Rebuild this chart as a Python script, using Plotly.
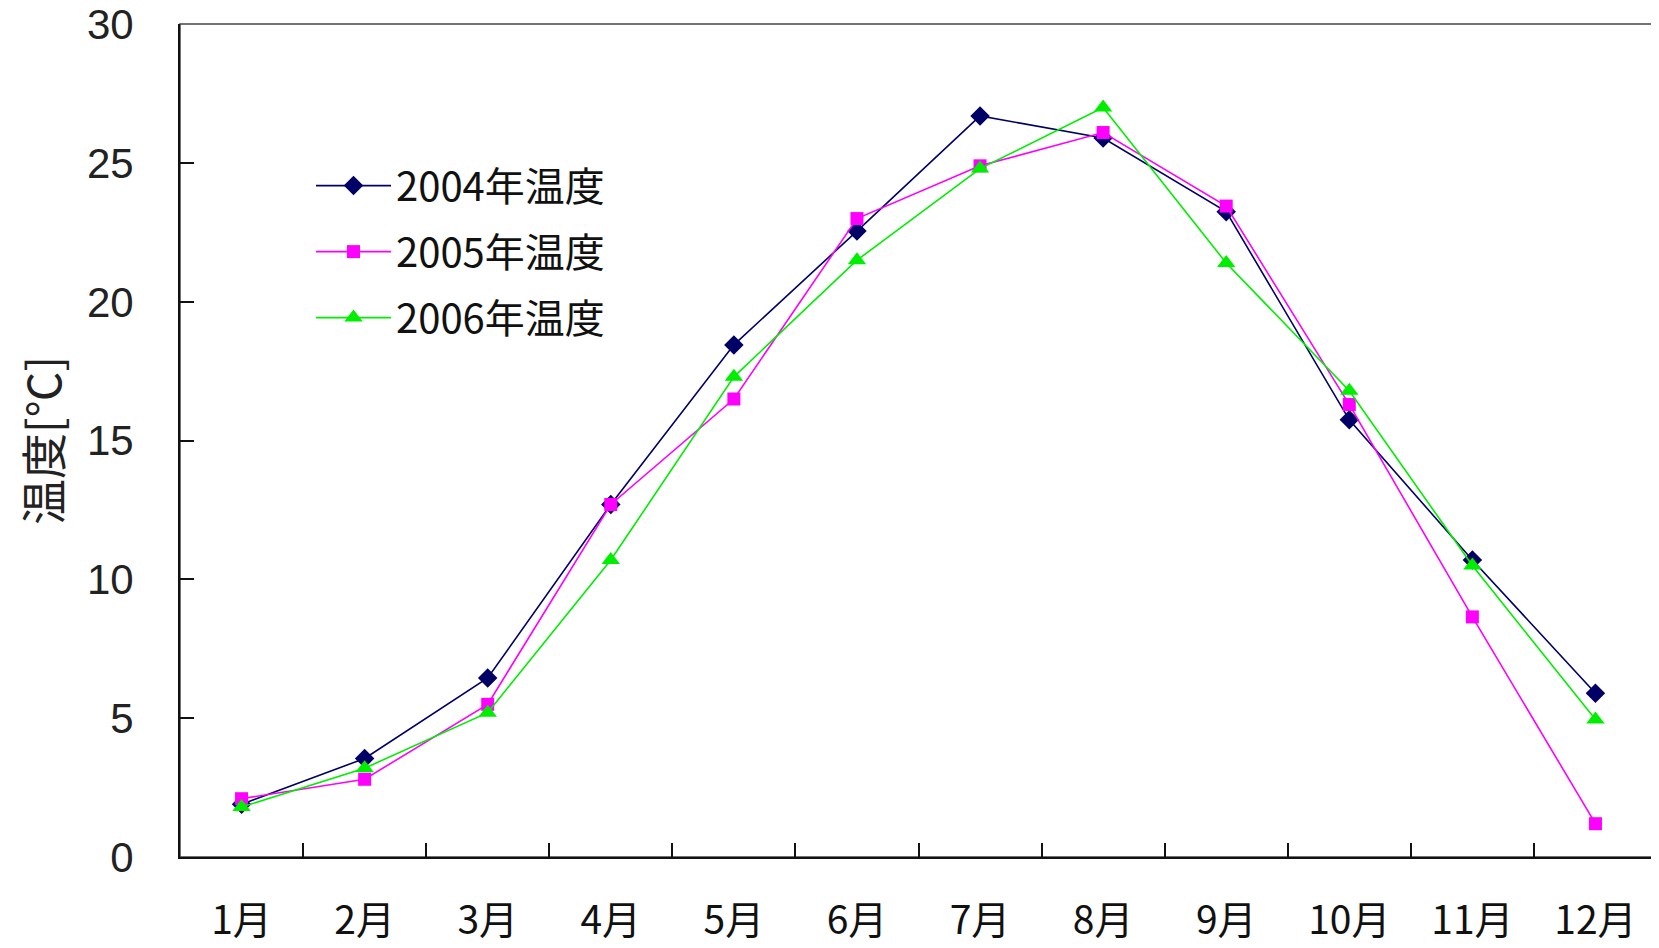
import plotly.graph_objects as go

months = ["1月", "2月", "3月", "4月", "5月", "6月", "7月", "8月", "9月", "10月", "11月", "12月"]
t2004 = [1.9, 3.55, 6.45, 12.7, 18.45, 22.55, 26.7, 25.9, 23.25, 15.75, 10.7, 5.9]
t2005 = [2.1, 2.8, 5.5, 12.7, 16.5, 23.0, 24.9, 26.1, 23.45, 16.3, 8.65, 1.2]
t2006 = [1.8, 3.2, 5.2, 10.7, 17.3, 21.5, 24.8, 27.0, 21.4, 16.8, 10.5, 4.95]
names = ["2004年温度", "2005年温度", "2006年温度"]
colors = ["#000066", "#FF00FF", "#00EE00"]
symbols = ["diamond", "square", "triangle-up"]
msizes = [15, 13, 16]
ytick_vals = [0, 5, 10, 15, 20, 25, 30]

FONT = "Noto Sans CJK JP, DejaVu Sans, sans-serif"
NUMFONT = "Liberation Sans, Arial, sans-serif"

fig = go.Figure()
for i, (vals, name) in enumerate(zip([t2004, t2005, t2006], names)):
    fig.add_trace(go.Scatter(
        x=months, y=vals, name=name, mode="lines+markers",
        legendgroup=name,
        line=dict(color=colors[i], width=1.6),
        marker=dict(symbol=symbols[i], size=msizes[i], color=colors[i],
                    line=dict(width=0)),
    ))

# page has an 8px body margin, so the figure is slightly smaller than the window
fig.update_layout(
    width=1651, height=940,
    margin=dict(l=172, r=2, t=16, b=91),
    paper_bgcolor="white", plot_bgcolor="white",
    font=dict(family=FONT, color="#111111"),
    showlegend=True,
    legend=dict(
        x=0.0887, y=0.845, xanchor="left", yanchor="top",
        font=dict(size=40, family=FONT, color="#111111"),
        bgcolor="rgba(0,0,0,0)",
        traceorder="grouped", tracegroupgap=11,
        itemwidth=75,
    ),
    xaxis=dict(
        tickson="boundaries", ticks="inside", ticklen=14, tickwidth=2,
        tickcolor="#111111",
        showline=True, linecolor="#111111", linewidth=2,
        showgrid=False, zeroline=False, automargin=False,
        tickfont=dict(size=39, family=FONT, color="#111111"),
        ticklabelstandoff=28, ticklabeloverflow="allow",
        range=[-0.5, 11.5],
    ),
    yaxis=dict(
        range=[0, 30.01], tickvals=ytick_vals, ticks="inside", ticklen=14,
        tickwidth=2, tickcolor="#111111",
        showline=True, linecolor="#111111", linewidth=2,
        showgrid=False, zeroline=False, automargin=False,
        tickfont=dict(size=42, family=NUMFONT, color="#222222"),
        ticklabelstandoff=36, ticklabeloverflow="allow",
        title=dict(text="温度[℃]", font=dict(size=46, family=FONT, color="#222222"),
                   standoff=20),
    ),
    shapes=[dict(type="rect", xref="paper", yref="paper", x0=0, y0=0, x1=1, y1=1,
                 line=dict(color="#444444", width=1.5), fillcolor="rgba(0,0,0,0)",
                 layer="below")],
)

fig.write_html("out.html")
